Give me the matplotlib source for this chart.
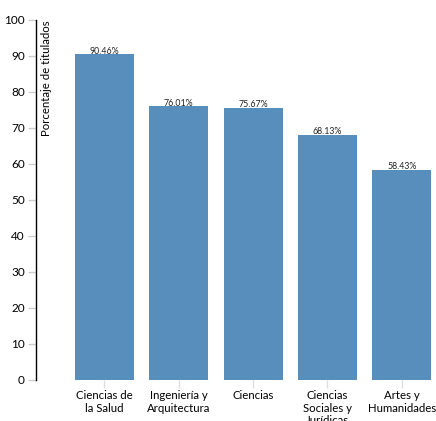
import matplotlib.pyplot as plt
import numpy as np

# datos
ramas = ['Ciencias de\nla Salud', 'Ingeniería y\nArquitectura', 'Ciencias',
         'Ciencias\nSociales y\nJurídicas', 'Artes y\nHumanidades']
porcentaje = [90.46, 76.01, 75.67, 68.13, 58.43]
etiquetas = ['90.46%', '76.01%', '75.67%', '68.13%', '58.43%']

plt.rcParams['font.family'] = ['Lato', 'DejaVu Sans']

fig = plt.figure(figsize=(4.36, 4.21), dpi=100)
ax = fig.add_axes([36/436, 41/421, 400/436, 360/421])

x = np.arange(len(ramas))
ax.bar(x, porcentaje, width=0.794, color='#588EBC', zorder=2)

for xi, v, t in zip(x, porcentaje, etiquetas):
    ax.text(xi, v - 0.4, t, ha='center', va='bottom', fontsize=6.3, color='#222222')

ax.set_xlim(-0.922, 4.462)
ax.set_ylim(0, 100)
ax.set_yticks(np.arange(0, 101, 10))
ax.set_xticks(x)
ax.set_xticklabels(ramas, fontsize=8.2, linespacing=1.2)

for s in ['top', 'right', 'bottom']:
    ax.spines[s].set_visible(False)
ax.spines['left'].set_color('black')
ax.spines['left'].set_linewidth(1.0)

ax.tick_params(axis='y', length=6, width=1, color='#cccccc', labelsize=8.5, pad=2)
ax.tick_params(axis='x', length=6, width=1, color='#dddddd', pad=1)
yt = ax.yaxis.get_major_ticks()
yt[0].tick1line.set_color('black')
yt[-1].tick1line.set_color('black')

ax.text(0.027, 1.0, 'Porcentaje de titulados', transform=ax.transAxes,
        rotation=90, ha='center', va='top', fontsize=8.2)

fig.savefig('out.png', dpi=100)
